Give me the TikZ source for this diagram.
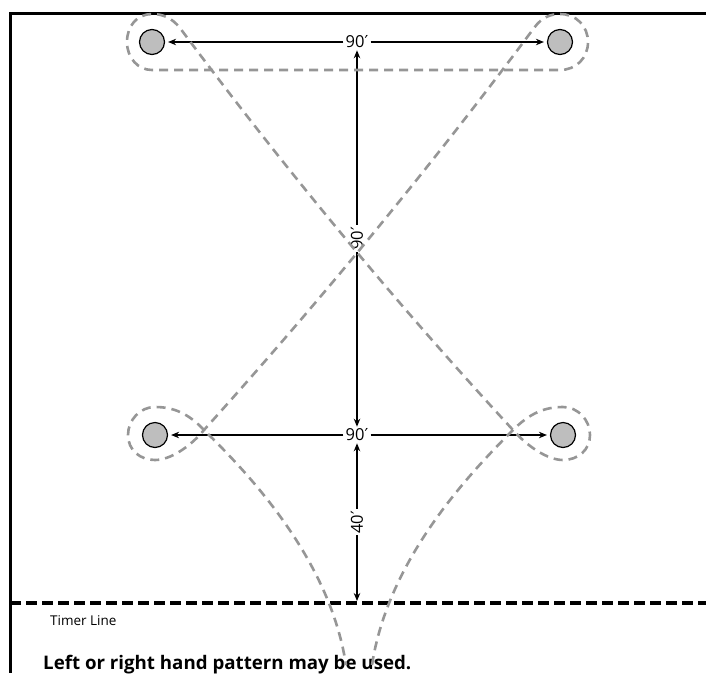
\documentclass[tikz,border=0pt]{standalone}
\usepackage{fontspec}
\setmainfont{Open Sans}
\newfontfamily\primefont{DejaVu Sans}
\usetikzlibrary{arrows.meta}
\definecolor{pathgray}{RGB}{150,150,150}
\definecolor{conegray}{RGB}{190,190,190}
\newcommand{\ft}[1]{#1{\primefont ′}}
\begin{document}
\begin{tikzpicture}[x=1pt,y=-1pt,
  cone/.style={circle, draw=black, line width=1.2pt, fill=conegray, minimum size=25pt, inner sep=0pt},
  dim/.style={font=\fontsize{16.5}{16.5}\selectfont, inner sep=2pt},
  arr/.style={line width=1.2pt, -{Stealth[length=8pt,width=6.5pt]}},
  darr/.style={line width=1.2pt, {Stealth[length=8pt,width=6.5pt]}-{Stealth[length=8pt,width=6.5pt]}},
  course/.style={draw=pathgray, line width=2.6pt, dash pattern=on 9pt off 6pt},
  frameline/.style={line width=3pt},
  timer/.style={line width=4.5pt, dash pattern=on 11pt off 5pt}]
\useasboundingbox (0,0) rectangle (706,673);
\clip (0,0) rectangle (706,673);
% frame
\coordinate (fTR) at (706,13);
\coordinate (fTL) at (10.5,13);
\coordinate (fBL) at (10.5,673);
\draw[frameline] (fTR) -- (fTL) -- (fBL);
% timer line
\coordinate (tlL) at (10,603);
\coordinate (tlR) at (706,603);
\draw[timer] (tlL) -- (tlR);
% cones
\node[cone] (tl) at (152,42) {};
\node[cone] (tr) at (560,42) {};
\node[cone] (bl) at (155,435) {};
\node[cone] (br) at (563,435) {};
% dimension labels
\node[dim] (t90) at (357,42) {\ft{90}};
\node[dim] (b90) at (357,435) {\ft{90}};
\coordinate (tm) at (357,601);
\draw[arr, shorten >=3pt] (t90) -- (tl);
\draw[arr, shorten >=3pt] (t90) -- (tr);
\draw[arr, shorten >=3pt] (b90) -- (bl);
\draw[arr, shorten >=3pt] (b90) -- (br);
\draw[darr] (t90) -- (b90) node[midway, dim, rotate=90, fill=white] (v90) {\ft{90}};
\draw[darr] (b90) -- (tm) node[midway, dim, rotate=90, fill=white] (v40) {\ft{40}};
% texts
\node[anchor=west, font=\fontsize{13.5}{13.5}\selectfont, inner sep=0pt] (tlbl) at (50,621) {Timer Line};
\node[anchor=base west, font=\bfseries\fontsize{18.7}{18.7}\selectfont, inner sep=0pt] (note) at (43,669) {Left or right hand pattern may be used.};
% course
\draw[course] (372,665) .. controls (388,560) and (468,475) .. (513,430)
  .. controls (530,413) and (545,407) .. (563,407)
  .. controls (578,407) and (590,420) .. (590,435)
  .. controls (590,450) and (578,460) .. (563,460)
  .. controls (548,460) and (528,447) .. (513,430)
  .. controls (393,300) and (282,165) .. (180,28)
  .. controls (172,18) and (163,14) .. (152,14)
  .. controls (137,14) and (127,26) .. (127,42)
  .. controls (127,58) and (138,70) .. (152,70)
  -- (560,70)
  .. controls (576,70) and (588,58) .. (588,42)
  .. controls (588,26) and (576,14) .. (560,14)
  .. controls (551,14) and (542,17) .. (534,28)
  .. controls (432,165) and (321,300) .. (204,430)
  .. controls (190,447) and (170,460) .. (155,460)
  .. controls (140,460) and (128,450) .. (128,435)
  .. controls (128,420) and (140,407) .. (155,407)
  .. controls (173,407) and (188,413) .. (204,430)
  .. controls (250,475) and (330,560) .. (346,665);
\end{tikzpicture}
\end{document}
